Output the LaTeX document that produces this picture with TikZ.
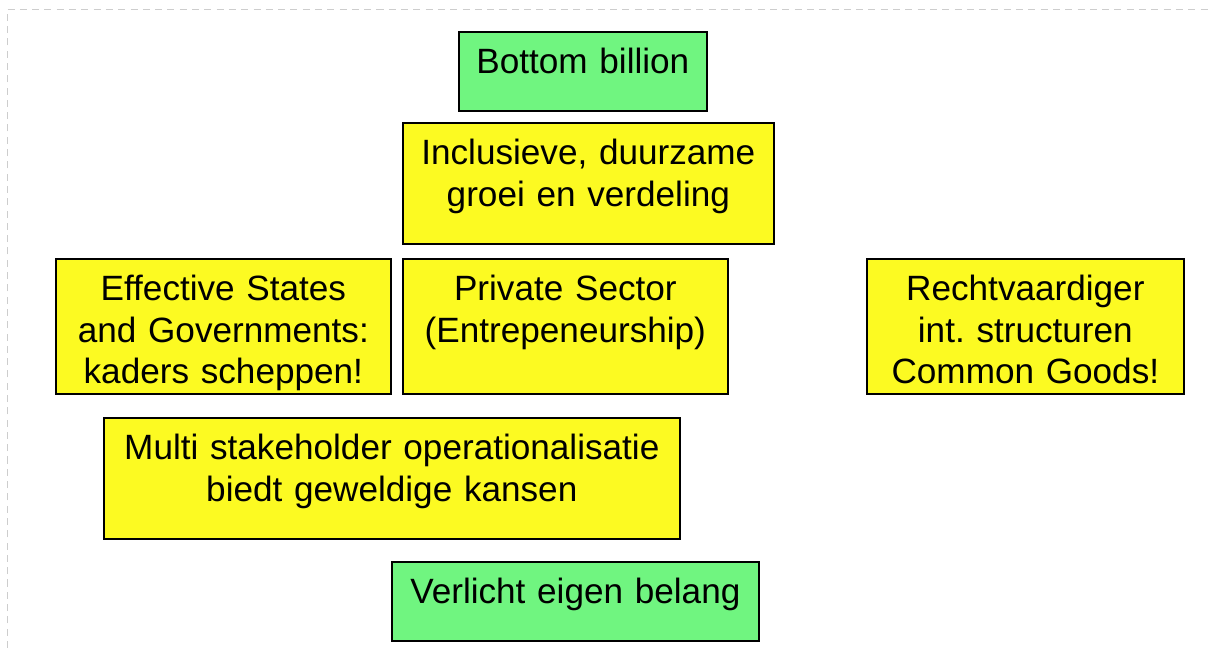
\documentclass[tikz,border=0pt]{standalone}
\usepackage{fontspec}
\setmainfont{Liberation Sans}
\usepackage{tikz}
\frenchspacing

\definecolor{boxgreen}{RGB}{112,245,128}
\definecolor{boxyellow}{RGB}{252,250,34}
\definecolor{framegray}{RGB}{205,205,205}

\tikzset{
  box/.style={draw=black, line width=1pt, inner sep=0pt, anchor=north west, align=center,
    text height=0.84cm, font=\fontsize{20}{23.5}\selectfont},
  greenbox/.style={box, fill=boxgreen},
  yellowbox/.style={box, fill=boxyellow},
}

\begin{document}
\begin{tikzpicture}[x=0.02cm, y=-0.02cm]
    \useasboundingbox (0,0) rectangle (1213,648);
    \draw[framegray, dash pattern=on 4pt off 3pt] (7,648) -- (7,9) -- (1213,9);

    \node[greenbox, text width=4.96cm, text depth=0.74cm] (bottom) at (458,31) {Bottom billion};
    \node[yellowbox, text width=7.42cm, text depth=1.58cm] (groei) at (402,122) {Inclusieve, duurzame\\groei en verdeling};

    \node[yellowbox, text width=6.70cm, text depth=1.86cm] (states) at (55,258) {Effective States\\and Governments:\\kaders scheppen!};
    \node[yellowbox, text width=6.50cm, text depth=1.86cm] (private) at (402,258) {Private Sector\\(Entrepeneurship)};
    \node[yellowbox, text width=6.34cm, text depth=1.86cm] (rechtv) at (866,258) {Rechtvaardiger\\int. structuren\\Common Goods!};

    \node[yellowbox, text width=11.52cm, text depth=1.58cm] (multi) at (103,417) {Multi stakeholder operationalisatie\\biedt geweldige kansen};
    \node[greenbox, text width=7.34cm, text depth=0.74cm] (belang) at (391,561) {Verlicht eigen belang};
\end{tikzpicture}
\end{document}
